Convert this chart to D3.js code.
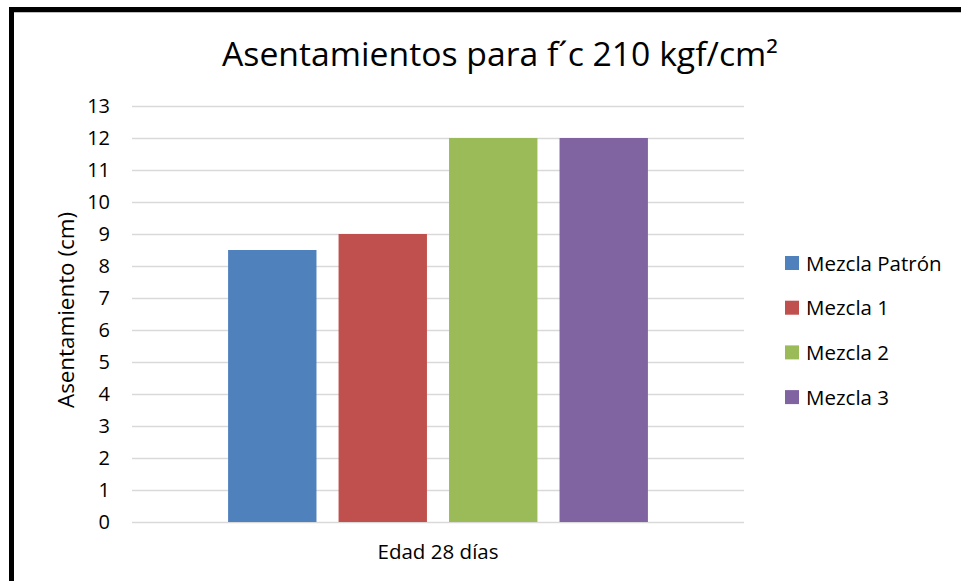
<!DOCTYPE html>
<html>
<head>
<meta charset="utf-8">
<script src="https://cdn.jsdelivr.net/npm/d3@7"></script>
<style>
  html, body { margin: 0; padding: 0; background: #fff; }
  svg { display: block; }
  text { font-family: "Open Sans", "Noto Sans", sans-serif; fill: #000; }
</style>
</head>
<body>
<svg id="chart" width="961" height="581"></svg>
<script>
// Slump results (cm) at 28 days, one bar per mix
const category = "Edad 28 días";
const series = ["Mezcla Patrón", "Mezcla 1", "Mezcla 2", "Mezcla 3"];
const values = [8.5, 9, 12, 12];
const colors = ["#4f81bd", "#c0504d", "#9bbb59", "#8064a2"];
const yTicks = [0, 1, 2, 3, 4, 5, 6, 7, 8, 9, 10, 11, 12, 13];

const svg = d3.select("#chart");

// Outer frame (left and top edges visible)
svg.append("rect").attr("x", 9).attr("y", 7).attr("width", 5).attr("height", 581).attr("fill", "#000");
svg.append("rect").attr("x", 9).attr("y", 7).attr("width", 961).attr("height", 5).attr("fill", "#000");
svg.append("line").attr("x1", 14).attr("x2", 961).attr("y1", 12.5).attr("y2", 12.5)
  .attr("stroke", "#bfbfbf").attr("stroke-width", 1);

const plot = { left: 132, right: 744, top: 106, bottom: 522 };

const y = d3.scaleLinear().domain([0, 13]).range([plot.bottom, plot.top]);
const xCat = d3.scaleBand().domain([category]).range([plot.left, plot.right]);
const xSer = d3.scaleBand().domain(series)
  .range([xCat(category) + xCat.bandwidth() * 0.157, xCat(category) + xCat.bandwidth() * 0.843])
  .paddingInner(0.2);

// Gridlines
svg.append("g")
  .attr("transform", `translate(${plot.left},0)`)
  .call(d3.axisLeft(y).tickValues(yTicks).tickSize(-(plot.right - plot.left)).tickFormat(""))
  .call(g => g.select(".domain").remove())
  .call(g => g.selectAll(".tick line").attr("stroke", "#d9d9d9").attr("stroke-width", 1.5));

// Y tick labels
svg.append("g")
  .attr("transform", `translate(${plot.left},0)`)
  .call(d3.axisLeft(y).tickValues(yTicks).tickSize(0).tickPadding(22).tickFormat(d3.format("d")))
  .call(g => g.select(".domain").remove())
  .call(g => g.selectAll(".tick text").attr("font-size", 20)
    .attr("font-family", "'Open Sans', sans-serif").attr("fill", "#000"));

// Bars
svg.append("g").selectAll("rect")
  .data(series.map((s, i) => ({ s, v: values[i], c: colors[i] })))
  .join("rect")
  .attr("x", d => xSer(d.s))
  .attr("width", xSer.bandwidth())
  .attr("y", d => y(d.v))
  .attr("height", d => y(0) - y(d.v))
  .attr("fill", d => d.c);

// X axis category label
svg.append("text")
  .attr("x", xCat(category) + xCat.bandwidth() / 2)
  .attr("y", 559)
  .attr("text-anchor", "middle")
  .attr("font-size", 20)
  .attr("textLength", 121)
  .attr("lengthAdjust", "spacingAndGlyphs")
  .text(category);

// Y axis title
svg.append("text")
  .attr("transform", `translate(74,310) rotate(-90)`)
  .attr("text-anchor", "middle")
  .attr("font-size", 22)
  .attr("textLength", 196)
  .attr("lengthAdjust", "spacingAndGlyphs")
  .text("Asentamiento (cm)");

// Chart title
svg.append("text")
  .attr("x", 500)
  .attr("y", 66)
  .attr("text-anchor", "middle")
  .attr("font-size", 32)
  .attr("textLength", 556)
  .attr("lengthAdjust", "spacingAndGlyphs")
  .text("Asentamientos para f´c 210 kgf/cm²");

// Legend
const legend = svg.append("g").selectAll("g")
  .data(series.map((s, i) => ({ s, c: colors[i] })))
  .join("g")
  .attr("transform", (d, i) => `translate(785,${263 + i * 44.7})`);
legend.append("rect").attr("x", 0).attr("y", -7).attr("width", 14).attr("height", 14).attr("fill", d => d.c);
legend.append("text").attr("x", 21).attr("y", 7.5).attr("font-size", 20.5).text(d => d.s);
</script>
</body>
</html>
